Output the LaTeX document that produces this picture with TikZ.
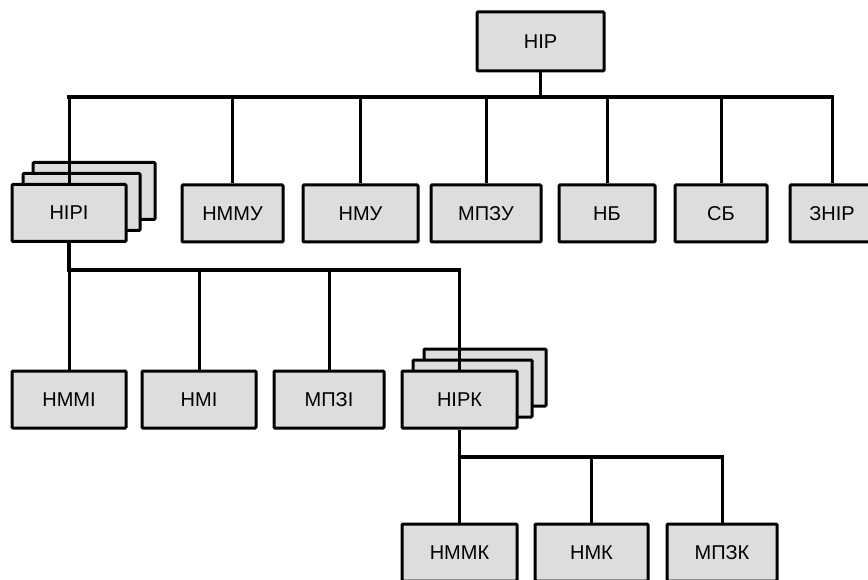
\documentclass[tikz,border=0pt]{standalone}
\usepackage{fontspec}
\setmainfont{Liberation Sans}
\definecolor{boxfill}{RGB}{221,221,221}
\tikzset{
  unit/.style={draw=black, fill=boxfill, line width=3pt, rounded corners=1pt,
    inner sep=0pt, minimum height=57pt, font=\fontsize{20}{22}\selectfont},
  bus/.style={line width=3.5pt},
  drop/.style={line width=3pt}
}
\begin{document}
\begin{tikzpicture}[x=1pt,y=-1pt]
\useasboundingbox (0,0) rectangle (868,580);
\clip (0,0) rectangle (868,580);

% top level
\node[unit, minimum width=127pt, minimum height=59pt] (nir) at (540.5,41.5) {НІР};

% first level (НІРІ is a stack of three)
\node[unit, minimum width=122pt] (niriC) at (94,191) {};
\node[unit, minimum width=117pt] (niriB) at (81.5,202) {};
\node[unit, minimum width=114pt] (niri) at (69,213) {НІРІ};
\node[unit, minimum width=101pt] (nmmu) at (232.5,213.5) {НММУ};
\node[unit, minimum width=115pt] (nmu)  at (360.5,213.5) {НМУ};
\node[unit, minimum width=110pt] (mpzu) at (486,213.5) {МПЗУ};
\node[unit, minimum width=96pt]  (nb)   at (607,213.5) {НБ};
\node[unit, minimum width=92pt]  (sb)   at (721,213.5) {СБ};
\node[unit, minimum width=84pt]  (znir) at (832,213.5) {ЗНІР};

% second level (НІРК is a stack of three)
\node[unit, minimum width=114pt] (nmmi) at (69,399.5) {НММІ};
\node[unit, minimum width=114pt] (nmi)  at (199,399.5) {НМІ};
\node[unit, minimum width=110pt] (mpzi) at (329,399.5) {МПЗІ};
\node[unit, minimum width=122pt] (nirkC) at (485,377.5) {};
\node[unit, minimum width=119pt] (nirkB) at (472.5,388.5) {};
\node[unit, minimum width=115pt] (nirk) at (459.5,399.5) {НІРК};

% third level
\node[unit, minimum width=115pt] (nmmk) at (459.5,552.5) {НММК};
\node[unit, minimum width=113pt] (nmk)  at (591.5,552.5) {НМК};
\node[unit, minimum width=110pt] (mpzk) at (722,552.5) {МПЗК};

% bus levels
\coordinate (b1) at (540.5,97);
\coordinate (b2) at (69,270);
\coordinate (b3) at (459.5,457);

% НІР -> first level
\draw[bus] (nir.south) -- (b1);
\draw[bus, line cap=rect] (niri.north |- b1) -- (znir.north |- b1);
\foreach \n in {niri,nmmu,nmu,mpzu,nb,sb,znir}
  \draw[drop] (\n.north) -- (\n.north |- b1);

% НІРІ -> second level
\draw[bus] (niri.south) -- (b2);
\draw[bus, line cap=rect] (b2) -- (nirk.north |- b2);
\foreach \n in {nmmi,nmi,mpzi,nirk}
  \draw[drop] (\n.north) -- (\n.north |- b2);

% НІРК -> third level
\draw[bus] (nirk.south) -- (b3);
\draw[bus, line cap=rect] (b3) -- (mpzk.north |- b3);
\foreach \n in {nmmk,nmk,mpzk}
  \draw[drop] (\n.north) -- (\n.north |- b3);
\end{tikzpicture}
\end{document}
